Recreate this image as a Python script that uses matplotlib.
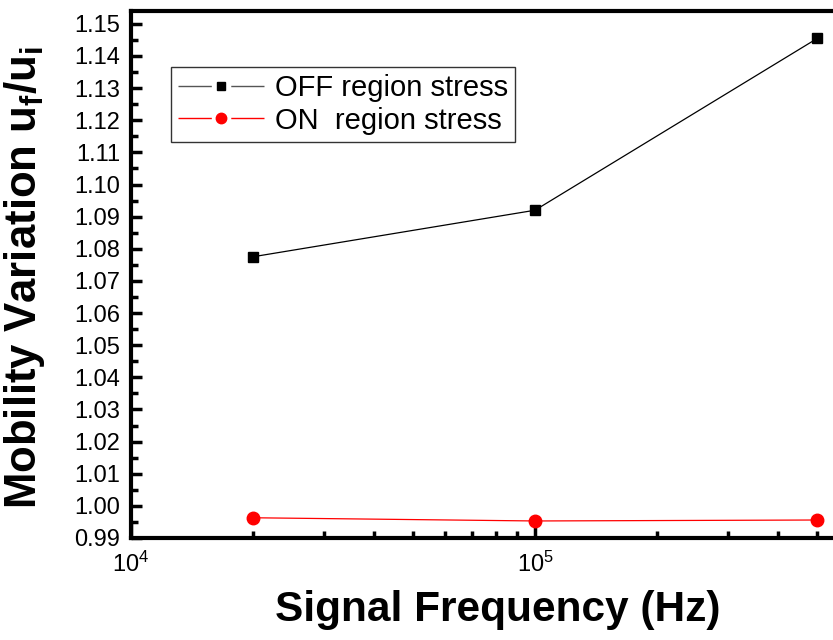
import matplotlib.pyplot as plt
from matplotlib.lines import Line2D
from matplotlib.ticker import MultipleLocator, LogLocator, FixedLocator, NullFormatter

plt.rcParams['font.family'] = ['Liberation Sans', 'DejaVu Sans']
plt.rcParams['mathtext.fontset'] = 'custom'
plt.rcParams['mathtext.rm'] = 'Liberation Sans:bold'
plt.rcParams['mathtext.it'] = 'Liberation Sans:bold'
plt.rcParams['mathtext.bf'] = 'Liberation Sans:bold'

freq = [2e4, 1e5, 5e5]
off_stress = [1.0775, 1.0920, 1.1455]
on_stress = [0.9963, 0.9953, 0.9956]
labels = ['OFF region stress', 'ON  region stress']

fig = plt.figure(figsize=(8.33, 6.4), dpi=100)
W, H = 833, 640
# axes run past the right edge of the figure (two decades wide)
ax = fig.add_axes([131 / W, (H - 538) / H, 808 / W, (538 - 11) / H])

ax.plot(freq, off_stress, color='black', lw=0.9, marker='s', ms=7.5,
        mfc='black', mec='black')
ax.plot(freq, on_stress, color='red', lw=0.9, marker='o', ms=9,
        mfc='red', mec='red')

ax.set_xscale('log')
ax.set_xlim(1e4, 1e6)
ax.set_ylim(0.99, 1.154)

ax.xaxis.set_major_locator(FixedLocator([1e4, 1e5]))
ax.xaxis.set_minor_locator(LogLocator(base=10, subs=range(2, 10)))
ax.xaxis.set_minor_formatter(NullFormatter())
ax.yaxis.set_major_locator(MultipleLocator(0.01))
ax.yaxis.set_minor_locator(MultipleLocator(0.005))
ax.yaxis.set_major_formatter(plt.FormatStrFormatter('%.2f'))

ax.tick_params(which='both', direction='in', top=False, right=False)
ax.tick_params(which='major', length=8, width=2.5, labelsize=17, pad=8)
ax.tick_params(axis='x', which='major', length=11, pad=10)
ax.tick_params(which='minor', length=5, width=2.5)
for s in ax.spines.values():
    s.set_linewidth(3)

ax.set_xlabel('Signal Frequency (Hz)', fontsize=30.5, fontweight='bold', va='top')
ax.set_ylabel(r'Mobility Variation u$_\mathregular{f}$/u$_\mathregular{i}$',
              fontsize=31.5, fontweight='bold', va='bottom')
ax.xaxis.set_label_coords((498 - 131) / 808, -0.098)
ax.yaxis.set_label_coords(-(131 - 47) / 808, 0.495)

# legend keys: line broken around the marker
dash = (0, (24, 14))
off_key = (Line2D([], [], color='#555555', lw=1, ls=dash),
           Line2D([], [], ls='none', marker='s', ms=6, color='black'))
on_key = (Line2D([], [], color='red', lw=1, ls=dash),
          Line2D([], [], ls='none', marker='o', ms=7.5, color='red'))
leg = ax.legend([off_key, on_key], labels,
                loc='upper left', bbox_to_anchor=((171 - 131) / 808, 1 - (67 - 11) / 527),
                borderaxespad=0, fontsize=21, frameon=True, fancybox=False,
                edgecolor='black', handlelength=62 / 21, borderpad=0.25,
                labelspacing=0.15, handletextpad=0.35)
leg.get_frame().set_linewidth(1)

fig.savefig('out.png', dpi=100)
